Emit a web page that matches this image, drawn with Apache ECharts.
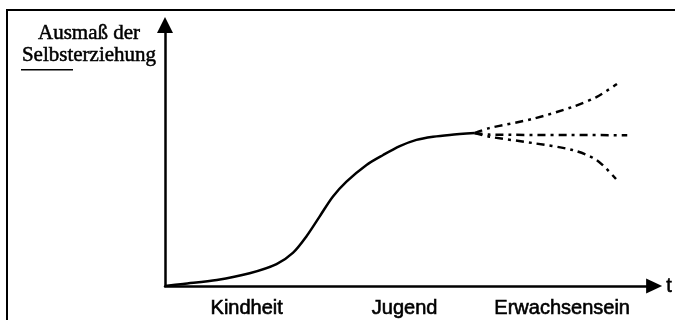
<!DOCTYPE html>
<html>
<head>
<meta charset="utf-8">
<script src="https://cdn.jsdelivr.net/npm/echarts@6/dist/echarts.min.js"></script>
<style>
  html, body { margin: 0; padding: 0; background: #fff; }
  #chart { width: 675px; height: 320px; }
</style>
</head>
<body>
<div id="chart"></div>
<script>
// Verlauf der Selbsterziehung (Skizze), Werte in Achseneinheiten 0..100
var mainX = [0, 3.7, 10.6, 17.3, 22.8, 26.2, 28.9, 31.6, 34.3, 37.1, 41.2, 44.6, 48.0, 51.4, 54.8, 58.2, 63.3]
var mainY = [0, 0.8, 2.3, 4.9, 8.4, 12.8, 19.0, 26.6, 34.2, 40.0, 46.4, 50.2, 53.6, 56.0, 57.2, 57.9, 58.6]

var upperX = [63.3, 66.3, 75.1, 83.3, 88.2, 92.4]
var upperY = [58.6, 60.5, 64.0, 68.6, 72.4, 77.4]

var middleX = [63.3, 66.3, 94.5]
var middleY = [58.6, 58.0, 57.8]

var lowerX = [63.3, 66.3, 75.1, 83.3, 88.2, 92.2]
var lowerY = [58.6, 57.2, 54.8, 52.1, 48.3, 41.0]

var phaseNames = ['Kindheit', 'Jugend', 'Erwachsensein']
var phasePos = [16.7, 49.0, 81.2]

function pairs(xs, ys) {
  return xs.map(function (x, i) { return [x, ys[i]] })
}

var dashDot = [8, 5, 3, 5]

var chart = echarts.init(document.getElementById('chart'))
var option = {
  animation: false,
  title: {
    text: 'Ausmaß der\nSelbsterziehung',
    left: 89,
    top: 22,
    padding: 0,
    textAlign: 'center',
    textStyle: {
      fontFamily: 'Liberation Serif',
      fontWeight: 'normal',
      fontSize: 21,
      lineHeight: 22,
      color: '#000',
      textBorderColor: '#000',
      textBorderWidth: 0.5
    }
  },
  grid: {
    left: 165,
    right: 20,
    top: 25,
    bottom: 34
  },
  xAxis: {
    type: 'value',
    min: 0,
    max: 100,
    name: 't',
    nameLocation: 'end',
    nameGap: 12,
    nameTextStyle: {
      fontFamily: 'Liberation Sans',
      fontSize: 20,
      color: '#000',
      verticalAlign: 'middle',
      textBorderColor: '#000',
      textBorderWidth: 0.6
    },
    splitLine: { show: false },
    axisTick: { show: false },
    axisLine: {
      lineStyle: { color: '#000', width: 2.5 },
      symbol: ['none', 'triangle'],
      symbolSize: [15, 16]
    },
    axisLabel: {
      customValues: phasePos,
      margin: 12,
      fontFamily: 'Liberation Sans',
      fontSize: 20,
      color: '#000',
      textBorderColor: '#000',
      textBorderWidth: 0.6,
      formatter: function (val) {
        for (var i = 0; i < phasePos.length; i++) {
          if (Math.abs(phasePos[i] - val) < 0.01) return phaseNames[i]
        }
        return ''
      }
    }
  },
  yAxis: {
    type: 'value',
    min: 0,
    max: 100,
    splitLine: { show: false },
    axisTick: { show: false },
    axisLabel: { show: false },
    axisLine: {
      show: true,
      lineStyle: { color: '#000', width: 2.5 },
      symbol: ['none', 'triangle'],
      symbolSize: [16, 16]
    }
  },
  graphic: [
    {
      type: 'rect',
      shape: { x: 7, y: 10, width: 720, height: 400 },
      style: { fill: 'none', stroke: '#000', lineWidth: 2 },
      silent: true
    },
    {
      type: 'rect',
      shape: { x: 21, y: 69, width: 52, height: 1.5 },
      style: { fill: '#000' },
      silent: true
    }
  ],
  series: [
    {
      type: 'line',
      data: pairs(mainX, mainY),
      smooth: 0.3,
      symbol: 'none',
      lineStyle: { color: '#000', width: 2.5 }
    },
    {
      type: 'line',
      data: pairs(upperX, upperY),
      smooth: 0.3,
      symbol: 'none',
      lineStyle: { color: '#000', width: 2.5, type: dashDot }
    },
    {
      type: 'line',
      data: pairs(middleX, middleY),
      smooth: 0.3,
      symbol: 'none',
      lineStyle: { color: '#000', width: 2.5, type: dashDot }
    },
    {
      type: 'line',
      data: pairs(lowerX, lowerY),
      smooth: 0.3,
      symbol: 'none',
      lineStyle: { color: '#000', width: 2.5, type: dashDot }
    }
  ]
}
chart.setOption(option)
</script>
</body>
</html>
